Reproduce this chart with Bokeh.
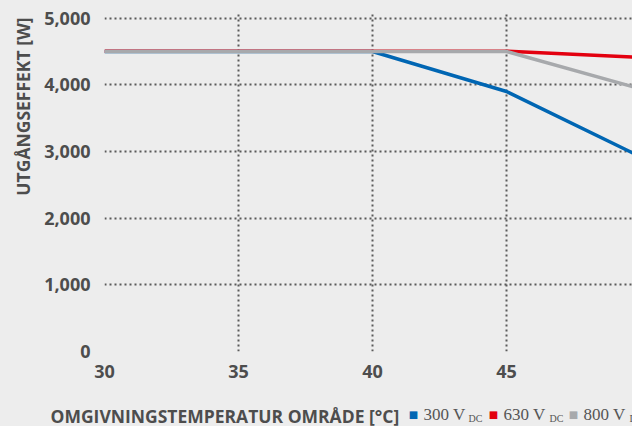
import math
from bokeh.plotting import figure
from bokeh.layouts import column, row
from bokeh.models import Label, NumeralTickFormatter, FixedTicker, Range1d
from bokeh.embed import file_html
from bokeh.resources import INLINE

# ---- data ----
temps = [30, 40, 45, 50]
p300 = [4500, 4500, 3900, 2920]
p630 = [4505, 4505, 4505, 4410]
p800 = [4500, 4500, 4500, 3940]
x_ticks = [30, 35, 40, 45]
y_ticks = [0, 1000, 2000, 3000, 4000, 5000]
series_names = ["300 V", "630 V", "800 V"]
series_sub = ["DC", "DC", "DC"]
colors = ["#0066b3", "#e3000f", "#a7a9ac"]
y_title = "UTGÅNGSEFFEKT [W]"
x_title = "OMGIVNINGSTEMPERATUR OMRÅDE [°C]"

BG = "#ededed"
TXT = "#4d4d4d"
FONT = "Open Sans"


def blank(w, h):
    f = figure(width=w, height=h, output_backend="svg", toolbar_location=None, title=None,
               x_range=Range1d(0, w), y_range=Range1d(0, h),
               x_axis_type=None, y_axis_type=None,
               min_border_left=0, min_border_right=0, min_border_top=0, min_border_bottom=0)
    f.background_fill_color = BG
    f.border_fill_color = BG
    f.outline_line_color = None
    f.xgrid.visible = False
    f.ygrid.visible = False
    return f


# ---- main chart ----
p = figure(width=592, height=395, output_backend="svg", toolbar_location=None, title=None,
           x_range=Range1d(30, 49.7), y_range=Range1d(0, 5100),
           min_border_left=64, min_border_right=0, min_border_top=11, min_border_bottom=44)
p.background_fill_color = BG
p.border_fill_color = BG
p.outline_line_color = None

for ax in (p.xaxis[0], p.yaxis[0]):
    ax.axis_line_color = None
    ax.major_tick_line_color = None
    ax.minor_tick_line_color = None
    ax.major_tick_out = 0
    ax.major_tick_in = 0
    ax.minor_tick_out = 0
    ax.minor_tick_in = 0
    ax.major_label_text_font = FONT
    ax.major_label_text_font_style = "bold"
    ax.major_label_text_font_size = "18px"
    ax.major_label_text_color = TXT

p.xaxis[0].ticker = FixedTicker(ticks=x_ticks)
p.yaxis[0].ticker = FixedTicker(ticks=y_ticks)
p.yaxis[0].formatter = NumeralTickFormatter(format="0,0")
p.xaxis[0].major_label_standoff = 13
p.yaxis[0].major_label_standoff = 14

for g in (p.xgrid[0], p.ygrid[0]):
    g.grid_line_color = "#5a5a5a"
    g.grid_line_dash = "2 3"
    g.grid_line_width = 2

# draw order: blue, red, gray on top
p.line(temps, p300, line_color=colors[0], line_width=3.5)
p.line(temps, p630, line_color=colors[1], line_width=3.5)
p.line(temps, p800, line_color=colors[2], line_width=3.5)

# ---- left strip with the y title ----
left = blank(40, 395)
left.add_layout(Label(x=22, y=245, x_units="screen", y_units="screen", text=y_title,
                      angle=math.pi / 2, text_align="center", text_baseline="middle",
                      text_font=FONT, text_font_style="bold", text_font_size="17.5px",
                      text_color=TXT))

# ---- bottom strip with x title and legend ----
bottom = blank(632, 31)
bottom.add_layout(Label(x=50, y=11, x_units="screen", y_units="screen", text=x_title,
                        text_align="left", text_baseline="alphabetic",
                        text_font=FONT, text_font_style="bold", text_font_size="17.5px",
                        text_color=TXT))
sq_x = [413, 493, 573]
tx_x = [423, 503, 583]
sub_x = [468, 549, 629]
for i in range(3):
    bottom.add_layout(Label(x=sq_x[i], y=12, x_units="screen", y_units="screen", text="■",
                            text_align="center", text_baseline="middle",
                            text_font="DejaVu Sans", text_font_size="10px",
                            text_color=colors[i]))
    bottom.add_layout(Label(x=tx_x[i], y=12, x_units="screen", y_units="screen", text=series_names[i],
                            text_align="left", text_baseline="alphabetic",
                            text_font="Liberation Serif", text_font_size="17px",
                            text_color="#555555"))
    bottom.add_layout(Label(x=sub_x[i], y=8, x_units="screen", y_units="screen", text=series_sub[i],
                            text_align="left", text_baseline="alphabetic",
                            text_font="Liberation Serif", text_font_size="10px",
                            text_color="#555555"))

layout = column(row(left, p, styles={"background-color": BG}), bottom,
                styles={"background-color": BG})
open("out.html", "w").write(file_html(layout, INLINE))
